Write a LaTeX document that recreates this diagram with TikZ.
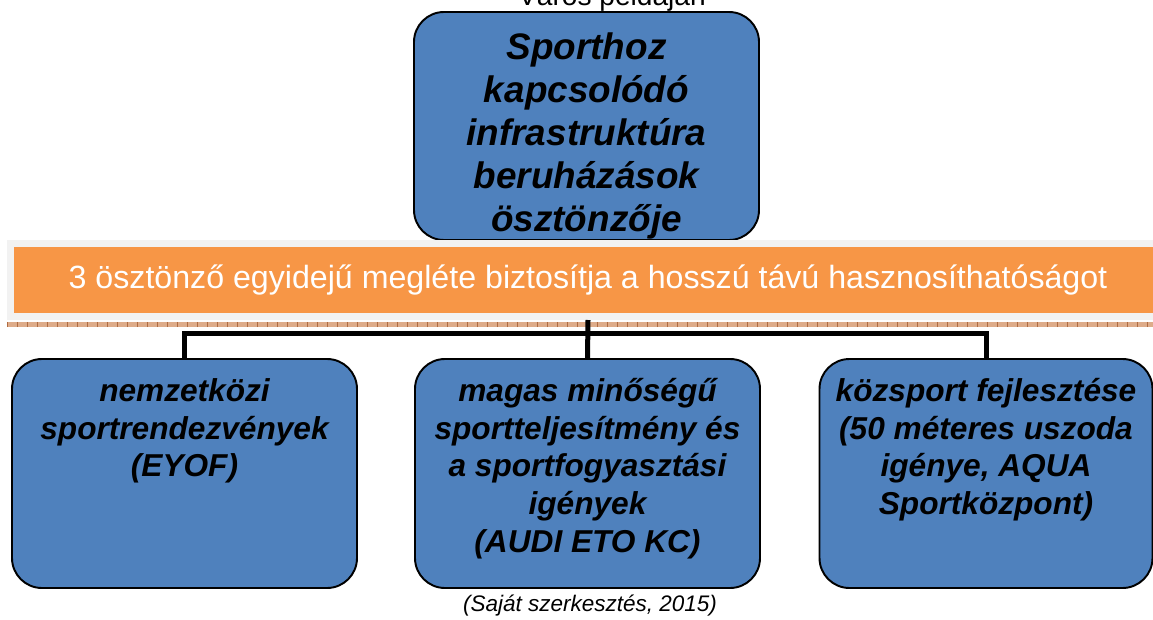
\documentclass[tikz,border=0pt]{standalone}
\usepackage{fontspec}
\setmainfont{Liberation Sans}
\definecolor{boxblue}{HTML}{4F81BD}
\definecolor{barorange}{HTML}{F79646}
\definecolor{barrim}{HTML}{F2F2F2}
\definecolor{bandtan}{RGB}{222,172,138}
\definecolor{bandtick}{RGB}{176,108,66}

\begin{document}
\begin{tikzpicture}[
  box/.style={draw=black, line width=1.1pt, fill=boxblue, rounded corners=0.6cm,
    inner sep=0pt, minimum width=6.9cm, minimum height=4.58cm,
    font=\fontsize{18}{21.4}\selectfont\bfseries\itshape},
  bar/.style={draw=barrim, line width=0.14cm, fill=barorange, text=white,
    minimum width=23.08cm, minimum height=1.46cm, inner sep=0pt,
    font=\fontsize{18.3}{21.6}\selectfont},
  conn/.style={line width=0.1cm, black}
]
  \useasboundingbox (0,0) rectangle (23.06,-12.38);

  % title, cut by the top edge
  \node[anchor=base, font=\fontsize{16}{19}\selectfont] (title) at (12.24,-0.1) {Város példáján};

  \node[box, minimum height=4.56cm, font=\fontsize{21}{24.4}\selectfont\bfseries\itshape] (goal) at (11.73,-2.52)
    {\parbox[c][4.56cm][t]{6.4cm}{\centering\vspace*{0.42cm}Sporthoz\\ kapcsolódó\\ infrastruktúra\\ beruházások\\ ösztönzője}};

  \node[bar] (bar) at (11.76,-5.6) {3 ösztönző egyidejű megléte biztosítja a hosszú távú hasznosíthatóságot};
  \draw[bandtan, line width=0.1cm] (0.14,-6.49) -- (23.3,-6.49);
  \draw[bandtick, line width=0.1cm, dash pattern=on 0.03cm off 0.17cm] (0.14,-6.49) -- (23.3,-6.49);

  % the three drivers
  \node[box] (intl) at (3.69,-9.47)
    {\parbox[c][4.58cm][t]{6.4cm}{\centering\vspace*{0.39cm}nemzetközi\\ sportrendezvények\\ (EYOF)}};
  \node[box] (perf) at (11.75,-9.47)
    {\parbox[c][4.58cm][t]{6.4cm}{\centering\vspace*{0.39cm}magas minőségű\\ sportteljesítmény és\\ a sportfogyasztási\\ igények\\ (AUDI ETO KC)}};
  \node[box, minimum width=6.66cm] (pub) at (19.72,-9.47)
    {\parbox[c][4.58cm][t]{6.4cm}{\centering\vspace*{0.39cm}közsport fejlesztése\\ (50 méteres uszoda\\ igénye, AQUA\\ Sportközpont)}};

  \coordinate (split) at (perf.north |- 0,-6.66);
  \draw[conn] (bar.south) -- (perf.north);
  \draw[conn] (intl.north) |- (split) -| (pub.north);

  \node[font=\fontsize{12.8}{15}\selectfont\itshape] (source) at (11.8,-12.12) {(Saját szerkesztés, 2015)};
\end{tikzpicture}
\end{document}
